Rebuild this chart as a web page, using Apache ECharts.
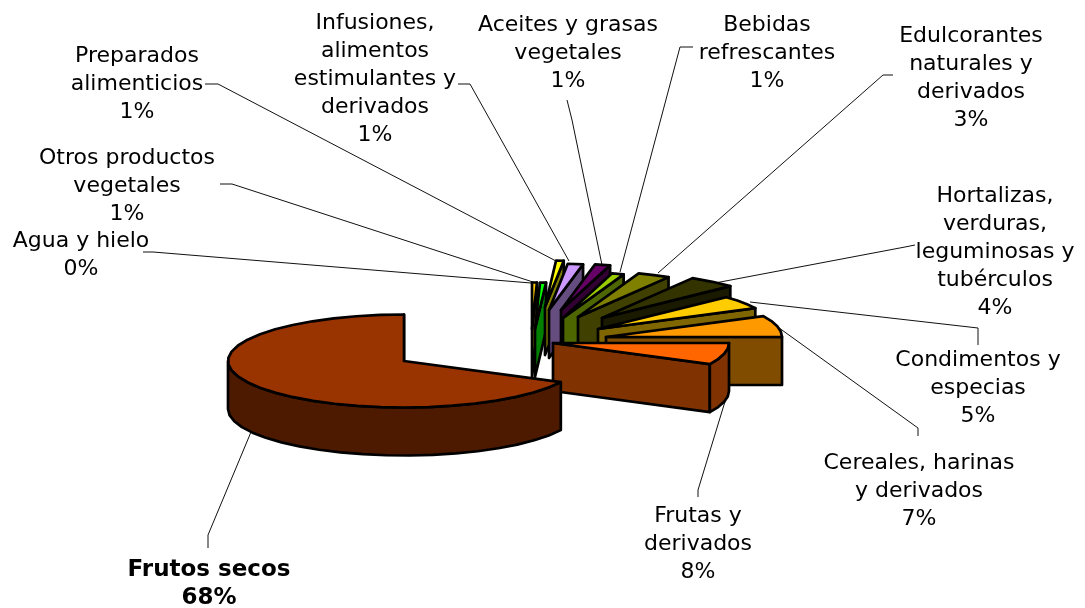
<!DOCTYPE html>
<html><head><meta charset="utf-8">
<style>html,body{margin:0;padding:0;background:#fff}#c{width:1085px;height:608px}</style>
<script src="https://cdn.jsdelivr.net/npm/echarts@6/dist/echarts.min.js"></script>
</head><body><div id="c"></div>
<script>
// Data (clockwise from 12 o'clock)
const categories = ['Agua y hielo','Otros productos vegetales','Preparados alimenticios','Infusiones, alimentos estimulantes y derivados','Aceites y grasas vegetales','Bebidas refrescantes','Edulcorantes naturales y derivados','Hortalizas, verduras, leguminosas y tubérculos','Condimentos y especias','Cereales, harinas y derivados','Frutas y derivados','Frutos secos'];
const values = [0.45,0.55,0.7,1.4,1.4,1.1,3,4.4,4.6,7.4,7.5,67.5];
const topColors = ['#FFCC00','#00FF00','#FFFF00','#CC99FF','#660066','#99CC00','#808000','#333300','#FFCC00','#FF9900','#FF6600','#993300'];
const sideColors = ['#806600','#008000','#808000','#664D80','#330033','#4D6600','#404000','#1A1A00','#806600','#804D00','#803300','#4D1A00'];
// Label text broken as in the picture
const labelLines = [['Agua y hielo'],['Otros productos','vegetales'],['Preparados','alimenticios'],['Infusiones,','alimentos','estimulantes y','derivados'],['Aceites y grasas','vegetales'],['Bebidas','refrescantes'],['Edulcorantes','naturales y','derivados'],['Hortalizas,','verduras,','leguminosas y','tubérculos'],['Condimentos y','especias'],['Cereales, harinas','y derivados'],['Frutas y','derivados'],['Frutos secos']];

// Layout
const rx = 176, ry = 46.5, depth = 48, cx0 = 404, cy0 = 361;
const explode = [[128,-32],[131,-32],[141,-54],[145,-51],[157,-51],[159,-43],[174,-44],[198,-43],[194,-32],[202,-24],[149,-18],[0,0]];
const labelPos = [[81,241],[127,158],[137,56],[375,23],[568,25],[767,25],[971,36],[995,196],[978,360],[919,463],[698,516],[209,570]];
const leaders = [
 [[143,252],[153,252],[531,283]],
 [[220,184],[232,184],[536,283]],
 [[205,84],[218,84],[556,261]],
 [[458,84],[470,84],[569,261]],
 [[567,100],[572,120],[602,265]],
 [[693,47],[680,47],[620,272]],
 [[893,75],[883,75],[658,273]],
 [[915,245],[905,247],[715,283]],
 [[978,345],[978,328],[750,302]],
 [[918,436],[918,428],[775,325]],
 [[698,497],[698,490],[727,395]],
 [[208,548],[208,535],[251,432]]
];
const FONT = '"DejaVu Sans", Verdana, sans-serif';
const fontSize = 22, boldSize = 23, lineH = 28;

const total = values.reduce((a,b)=>a+b,0);
let acc = 0;
const ranges = values.map(v=>{const s=acc/total*360; acc+=v; return [s,acc/total*360];});
const pct = values.map(v=>Math.round(v/total*100)+'%');

function rimPoint(a,c){const r=a*Math.PI/180;return [c[0]+rx*Math.sin(r),c[1]-ry*Math.cos(r)];}
function arcPoints(s,e,c){const n=Math.max(1,Math.ceil((e-s)/8));const p=[];for(let i=0;i<=n;i++)p.push(rimPoint(s+(e-s)*i/n,c));return p;}
const down = p=>[p[0],p[1]+depth];

function renderItem(params){
  const i = params.dataIndex, [s,e] = ranges[i];
  const c = [cx0+explode[i][0], cy0+explode[i][1]];
  const rim = arcPoints(s,e,c);
  const st = {stroke:'#000',lineWidth:2.7,lineJoin:'round'};
  const poly = (pts,fill)=>({type:'polygon',shape:{points:pts},style:Object.assign({fill},st)});
  const kids = [];
  const side = sideColors[i];
  kids.push(poly([c,rim[rim.length-1],down(rim[rim.length-1]),down(c)],side));
  // the outer wall faces the viewer only on the front half of the pie
  const fs = Math.max(s,90), fe = Math.min(e,270);
  if (fe>fs){
    const front = arcPoints(fs,fe,c);
    kids.push(poly(front.concat(front.slice().reverse().map(down)),side));
  }
  kids.push(poly([c].concat(rim),topColors[i]));
  return {type:'group',children:kids};
}

const graphics = [];
leaders.forEach(pts=>graphics.push({type:'polyline',silent:true,z:1,shape:{points:pts},style:{stroke:'#111',lineWidth:1,fill:null}}));
categories.forEach((name,i)=>{
  const lines = labelLines[i].concat([pct[i]]);
  const bold = i===categories.length-1;
  graphics.push({type:'text',silent:true,z:5,x:labelPos[i][0],y:labelPos[i][1]-lineH/2,
    style:{text:lines.join('\n'),align:'center',verticalAlign:'top',fill:'#000',lineHeight:lineH,
      font:(bold?'bold '+boldSize:fontSize)+'px '+FONT}});
});

const chart = echarts.init(document.getElementById('c'),null,{renderer:'canvas'});
chart.setOption({
  animation:false,
  backgroundColor:'#fff',
  graphic:{elements:graphics},
  series:[{type:'custom',coordinateSystem:'none',z:3,silent:true,renderItem,
    data:values.map((v,i)=>({name:categories[i],value:v}))}]
});
</script></body></html>
